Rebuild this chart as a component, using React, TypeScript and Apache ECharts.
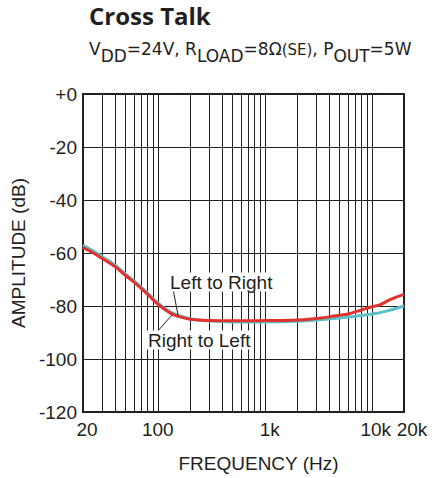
import React, { useEffect, useRef } from "react";
import * as echarts from "echarts";

const FONT = "'Liberation Sans', Arial, sans-serif";
const TFONT = "'DejaVu Sans', sans-serif";
const HFONT = "'Open Sans', sans-serif";
const INK = "#231f20";

const redFreq = [20, 25, 30, 40, 50, 60, 80, 100, 130, 150, 200, 300, 500, 1000, 2000, 3000, 4000, 5000, 6000, 8000, 10000, 12000, 15000, 20000];
const redDb = [-58, -60, -62, -65.2, -68.5, -71, -75.5, -79.3, -82.6, -83.7, -85, -85.5, -85.6, -85.5, -85.3, -84.7, -84.1, -83.5, -83, -81.5, -80.3, -79.5, -77.5, -75.6];

const cyanFreq = [20, 25, 30, 40, 50, 60, 80, 100, 130, 150, 200, 300, 500, 1000, 2000, 3000, 5000, 8000, 10000, 12000, 15000, 20000];
const cyanDb = [-57, -59.3, -61.3, -64.6, -68, -70.5, -75, -78.8, -82.2, -83.3, -84.8, -85.6, -86, -86, -85.8, -85.3, -84.5, -83.6, -83, -82.5, -81.5, -80];

const gridFreqs = [20, 30, 40, 50, 60, 70, 80, 90, 100, 200, 300, 400, 500, 600, 700, 800, 900, 1000, 2000, 3000, 4000, 5000, 6000, 7000, 8000, 9000, 10000, 20000];
const xLabelValues = [20, 100, 1000, 10000, 20000];
const xLabelTexts = ["20", "100", "1k", "10k", "20k"];
const xLabelShift = ["s8", "s0", "s10", "s8", "s16"];

export default function App() {
  const ref = useRef<HTMLDivElement>(null);
  useEffect(() => {
    const chart = echarts.init(ref.current!, null, { renderer: "svg" });
    const rich: any = {};
    [0, 8, 10, 16].forEach((p) => {
      rich["s" + p] = { fontSize: 19, fontFamily: FONT, color: INK, padding: [0, 0, 0, p] };
    });
    const option: any = {
      animation: false,
      backgroundColor: "#fff",
      title: [
        {
          text: "Cross Talk",
          left: 89,
          top: 3,
          padding: 0,
          textStyle: { fontSize: 24, fontWeight: "bold", fontFamily: HFONT, color: INK },
        },
        {
          text: "{n|V}{b|DD}{n|=24V, R}{b|LOAD}{n|=8Ω}{c|(SE)}{n|, P}{b|OUT}{n|=5W}",
          left: 89,
          top: 40,
          padding: 0,
          textStyle: {
            fontWeight: "normal",
            rich: {
              n: { fontSize: 17, fontWeight: "normal", fontFamily: TFONT, color: INK, verticalAlign: "bottom", padding: [0, 0, 7, 0] },
              b: { fontSize: 17, fontWeight: "normal", fontFamily: TFONT, color: INK, verticalAlign: "bottom" },
              c: { fontSize: 15, fontWeight: "normal", fontFamily: TFONT, color: INK, verticalAlign: "bottom", padding: [0, 0, 7, 0] },
            },
          },
        },
      ],
      grid: {
        left: 83,
        right: 35,
        top: 94,
        bottom: 65,
        show: true,
        borderColor: INK,
        borderWidth: 2,
      },
      xAxis: {
        type: "log",
        logBase: 10,
        min: 20,
        max: 20000,
        name: "FREQUENCY (Hz)",
        nameLocation: "middle",
        nameGap: 42,
        nameTextStyle: { fontSize: 19, fontFamily: FONT, color: INK, padding: [0, 0, 0, 30] },
        axisLine: { show: true, lineStyle: { color: INK, width: 2 } },
        axisTick: { show: false, customValues: gridFreqs },
        splitLine: { show: true, lineStyle: { color: INK, width: 1 } },
        axisLabel: {
          customValues: xLabelValues,
          margin: 8,
          formatter: (v: number) => {
            let best = 0;
            xLabelValues.forEach((x, i) => {
              if (Math.abs(Math.log10(x) - Math.log10(v)) < Math.abs(Math.log10(xLabelValues[best]) - Math.log10(v))) best = i;
            });
            return "{" + xLabelShift[best] + "|" + xLabelTexts[best] + "}";
          },
          rich,
        },
      },
      yAxis: {
        type: "value",
        min: -120,
        max: 0,
        interval: 20,
        name: "AMPLITUDE (dB)",
        nameLocation: "middle",
        nameGap: 50,
        nameTextStyle: { fontSize: 19, fontFamily: FONT, color: INK },
        axisLine: { show: true, lineStyle: { color: INK, width: 2 } },
        axisTick: { show: false },
        splitLine: { show: true, lineStyle: { color: INK, width: 1 } },
        axisLabel: {
          fontSize: 19,
          fontFamily: FONT,
          color: INK,
          margin: 6,
          formatter: (v: number) => (v === 0 ? "+0" : String(v)),
        },
      },
      series: [
        {
          name: "Right to Left",
          type: "line",
          smooth: 0.4,
          symbol: "none",
          data: cyanFreq.map((f, i) => [f, cyanDb[i]]),
          lineStyle: { color: "#5cc0cc", width: 3 },
          z: 3,
        },
        {
          name: "Left to Right",
          type: "line",
          smooth: 0.4,
          symbol: "none",
          data: redFreq.map((f, i) => [f, redDb[i]]),
          lineStyle: { color: "#e2322b", width: 3 },
          z: 4,
        },
      ],
      graphic: [
        {
          type: "line",
          shape: { x1: 173, y1: 289, x2: 178, y2: 315 },
          style: { stroke: INK, lineWidth: 1 },
          z: 10,
        },
        {
          type: "line",
          shape: { x1: 156, y1: 333, x2: 172, y2: 315 },
          style: { stroke: INK, lineWidth: 1 },
          z: 10,
        },
        {
          type: "text",
          x: 169,
          y: 282,
          style: {
            text: "Left to Right",
            fontSize: 19,
            fontFamily: FONT,
            fill: INK,
            verticalAlign: "middle",
            backgroundColor: "#fff",
            padding: [0, 1],
          },
          z: 11,
        },
        {
          type: "text",
          x: 147,
          y: 340,
          style: {
            text: "Right to Left",
            fontSize: 19,
            fontFamily: FONT,
            fill: INK,
            verticalAlign: "middle",
            backgroundColor: "#fff",
            padding: [0, 1],
          },
          z: 11,
        },
      ],
    };
    chart.setOption(option);
    return () => chart.dispose();
  }, []);
  return (
    <div
      ref={ref}
      style={{ position: "fixed", left: 0, top: 0, width: 439, height: 478, background: "#fff" }}
    />
  );
}
